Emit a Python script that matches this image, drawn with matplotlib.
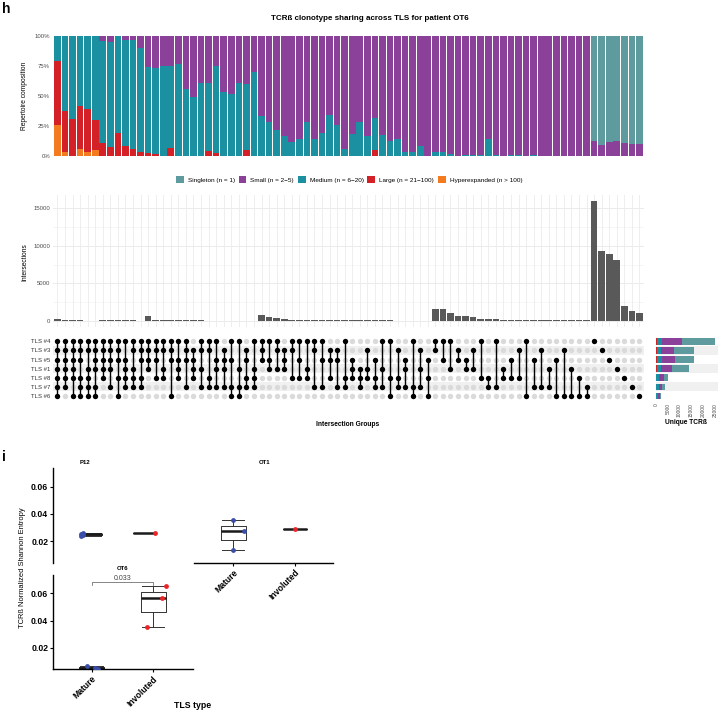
import numpy as np
import matplotlib
matplotlib.use("Agg")
import matplotlib.pyplot as plt
from matplotlib.patches import Patch

plt.rcParams['font.family'] = ['Liberation Sans', 'DejaVu Sans']

# ---- data: TCRb clonotype sharing (panel h) ----
tls_rows = ['TLS #4', 'TLS #3', 'TLS #5', 'TLS #1', 'TLS #8', 'TLS #7', 'TLS #6']

# membership of each intersection column, rows in tls_rows order
combos = ['1111111',
          '1111110', '1111101', '1110111', '1101111', '1111011',
          '1111100', '1111010', '1110101', '1011110', '1101110', '1110110',
          '1111000', '1110100', '1101100', '1110001', '1011100', '1110010', '0111100',
          '1101010', '1100110', '1011010', '0111010', '1010011', '1001011', '0110110', '1001110',
          '1110000', '1011000', '1101000', '0111000', '1100100', '1010100', '1001100', '1100010',
          '1010010', '0110100', '0110010', '1000110', '0011100', '0001110', '0101100', '0010110',
          '1001010', '1000101', '0100110', '0011010', '1000011', '0101010', '0010101',
          '1100000', '1010000', '1001000', '0110000', '0011000', '0101000', '1000100', '0000110',
          '1000010', '0001100', '0010100', '0100100', '1000001', '0010010', '0100010', '0001010',
          '0010001', '0100001', '0001001', '0000101', '0000011',
          '1000000', '0100000', '0010000', '0001000', '0000100', '0000010', '0000001']

inter_size = [220,
              130, 35, 30, 25, 20,
              80, 80, 40, 35, 30, 25,
              580, 60, 50, 45, 40, 35, 30, 28, 25, 22, 20, 18, 16, 15, 14,
              750, 530, 400, 220, 120, 90, 80, 70, 60, 55, 50, 45, 40, 38, 35, 32,
              30, 28, 26, 24, 22, 20, 18,
              1510, 1510, 980, 620, 620, 490, 220, 180, 170, 150, 130, 110, 100, 90,
              80, 70, 60, 50, 45, 40, 35,
              15980, 9300, 8950, 8100, 2000, 1250, 990]

hyper_frac = [0.26, 0.03, 0, 0.06, 0.035, 0.05, 0, 0, 0, 0, 0, 0, 0, 0, 0, 0, 0, 0, 0, 0,
              0, 0, 0, 0, 0, 0, 0, 0, 0, 0, 0, 0, 0, 0, 0, 0, 0, 0, 0, 0,
              0, 0, 0, 0, 0, 0, 0, 0, 0, 0, 0, 0, 0, 0, 0, 0, 0, 0, 0, 0,
              0, 0, 0, 0, 0, 0, 0, 0, 0, 0, 0, 0, 0, 0, 0, 0, 0, 0]
large_frac = [0.53, 0.345, 0.305, 0.36, 0.355, 0.25, 0.105, 0.075, 0.19, 0.08, 0.055, 0.03,
              0.028, 0.015, 0, 0.07, 0, 0, 0, 0, 0.045, 0.022, 0, 0, 0, 0.047, 0,
              0, 0, 0, 0, 0, 0, 0, 0, 0, 0, 0, 0, 0, 0, 0, 0.05,
              0, 0, 0, 0, 0, 0, 0, 0, 0, 0, 0, 0, 0, 0, 0, 0, 0, 0, 0, 0,
              0, 0, 0, 0, 0, 0, 0, 0, 0, 0, 0, 0, 0, 0, 0]
medium_frac = [0.21, 0.625, 0.695, 0.58, 0.61, 0.70, 0.855, 0.875, 0.81, 0.89, 0.915, 0.87,
               0.717, 0.715, 0.75, 0.68, 0.77, 0.555, 0.49, 0.61, 0.565, 0.728, 0.53, 0.515,
               0.61, 0.553, 0.70,
               0.33, 0.28, 0.215, 0.17, 0.12, 0.145, 0.28, 0.14, 0.19, 0.34, 0.255, 0.055,
               0.185, 0.28, 0.17, 0.27, 0.175, 0.125, 0.14, 0.033, 0.033, 0.08, 0,
               0.033, 0.033, 0.017, 0, 0.005, 0.01, 0.01, 0.14, 0.005, 0, 0.005, 0.005, 0,
               0.01, 0, 0, 0, 0, 0, 0, 0,
               0.004, 0.004, 0.004, 0.004, 0.004, 0.004, 0.004]
singleton_frac = [0, 0, 0, 0, 0, 0, 0, 0, 0, 0, 0, 0, 0, 0, 0, 0, 0, 0, 0, 0,
                  0, 0, 0, 0, 0, 0, 0, 0, 0, 0, 0, 0, 0, 0, 0, 0, 0, 0, 0, 0,
                  0, 0, 0, 0, 0, 0, 0, 0, 0, 0, 0, 0, 0, 0, 0, 0, 0, 0, 0, 0,
                  0, 0, 0, 0, 0, 0, 0, 0, 0, 0, 0,
                  0.871, 0.91, 0.886, 0.879, 0.891, 0.899, 0.904]

# unique TCRb per TLS, split by clone size class
set_large = [400, 400, 400, 400, 60, 30, 20]
set_medium = [2200, 1800, 2000, 1700, 1400, 1100, 700]
set_small = [8600, 5400, 5600, 4700, 1800, 1600, 1100]
set_singleton = [14000, 8500, 7900, 7200, 1700, 1000, 400]

class_names = ['Singleton (n = 1)', 'Small (n = 2\u22125)', 'Medium (n = 6\u221220)',
               'Large (n = 21\u2212100)', 'Hyperexpanded (n > 100)']
class_colors = ['#5E9B9F', '#8B4199', '#1A90A0', '#D42128', '#F47A20']

# ---- data: normalized Shannon entropy (panel i) ----
tls_types = ['Mature', 'Involuted']
p12_mature = [0.0243, 0.0248, 0.0250, 0.0252, 0.0256, 0.0260]
p12_involuted = [0.0264]
ot1_mature = [0.0356, 0.0275, 0.0141]
ot1_involuted = [0.0290]
ot6_mature = [0.0064, 0.0046, 0.0049]
ot6_involuted = [0.0653, 0.0568, 0.0352]
ot6_pvalue = '0.033'

W, H = 720, 713
fig = plt.figure(figsize=(7.2, 7.13), dpi=100)


def px_axes(x0, y0, x1, y1):
    return fig.add_axes([x0 / W, 1 - y1 / H, (x1 - x0) / W, (y1 - y0) / H])


n = len(combos)
xs = np.arange(n)
X0, X1 = 52.9, 644.0
grid_c = '#EBEBEB'
tick_c = '#4D4D4D'

# ---------- composition panel ----------
ax = px_axes(X0, 36, X1, 156)
singleton = np.array(singleton_frac)
hyper = np.array(hyper_frac)
large = np.array(large_frac)
medium = np.array(medium_frac)
small = 1 - hyper - large - medium - singleton
bottom = np.zeros(n)
for vals, col in [(hyper, class_colors[4]), (large, class_colors[3]), (medium, class_colors[2]),
                  (small, class_colors[1]), (singleton, class_colors[0])]:
    ax.bar(xs, vals, bottom=bottom, width=0.88, color=col, linewidth=0)
    bottom += vals
ax.set_xlim(-0.6, n - 0.4)
ax.set_ylim(0, 1)
ax.set_yticks([0, 0.25, 0.5, 0.75, 1])
ax.set_yticklabels(['0%', '25%', '50%', '75%', '100%'])
ax.set_xticks([])
ax.tick_params(axis='y', length=0, labelsize=4.3, labelcolor=tick_c, pad=2)
for s in ax.spines.values():
    s.set_visible(False)

# ---------- intersection size panel ----------
ax2 = px_axes(X0, 194.9, X1, 326.7)
ax2.set_xlim(-0.6, n - 0.4)
ax2.set_ylim(-800, 16800)
for v in [2500, 7500, 12500]:
    ax2.axhline(v, color='#F3F3F3', lw=0.5, zorder=0)
for v in [0, 5000, 10000, 15000]:
    ax2.axhline(v, color=grid_c, lw=0.7, zorder=0)
for x in xs:
    ax2.axvline(x, color=grid_c, lw=0.6, zorder=0)
ax2.bar(xs, inter_size, width=0.88, color='#595959', linewidth=0, zorder=2)
ax2.set_yticks([0, 5000, 10000, 15000])
ax2.set_xticks([])
ax2.tick_params(axis='y', length=0, labelsize=4.3, labelcolor=tick_c, pad=2)
for s in ax2.spines.values():
    s.set_visible(False)

# ---------- matrix panel ----------
ax3 = px_axes(X0, 336.7, X1, 400.6)
ax3.set_xlim(-0.6, n - 0.4)
ax3.set_ylim(len(tls_rows) - 0.5, -0.5)
for r in range(len(tls_rows)):
    if r % 2 == 1:
        ax3.axhspan(r - 0.5, r + 0.5, color='#F0F0F0', lw=0, zorder=0)
for j, c in enumerate(combos):
    on = [i for i, ch in enumerate(c) if ch == '1']
    off = [i for i, ch in enumerate(c) if ch == '0']
    ax3.scatter([j] * len(off), off, s=15, color='#DADADA', lw=0, zorder=2)
    if len(on) > 1:
        ax3.plot([j, j], [min(on), max(on)], color='black', lw=1.0, zorder=3)
    ax3.scatter([j] * len(on), on, s=15, color='black', lw=0, zorder=4)
ax3.set_yticks(range(len(tls_rows)))
ax3.set_yticklabels(tls_rows)
ax3.set_xticks([])
ax3.tick_params(axis='y', length=0, labelsize=4.3, labelcolor='#333333', pad=2)
for s in ax3.spines.values():
    s.set_visible(False)

# ---------- set size panel ----------
ax4 = px_axes(656, 336.7, 718, 400.6)
ax4.set_ylim(len(tls_rows) - 0.5, -0.5)
ax4.set_xlim(0, 26270)
for r in range(len(tls_rows)):
    if r % 2 == 1:
        ax4.axhspan(r - 0.5, r + 0.5, color='#F0F0F0', lw=0, zorder=0)
left = np.zeros(len(tls_rows))
for vals, col in [(set_large, class_colors[3]), (set_medium, class_colors[2]),
                  (set_small, class_colors[1]), (set_singleton, class_colors[0])]:
    ax4.barh(range(len(tls_rows)), vals, left=left, height=0.72, color=col, lw=0, zorder=2)
    left += np.array(vals)
ax4.set_yticks([])
ax4.set_xticks([0, 5000, 10000, 15000, 20000, 25000])
ax4.tick_params(axis='x', length=0, labelsize=3.5, labelcolor=tick_c, pad=2, labelrotation=90)
for s in ax4.spines.values():
    s.set_visible(False)

# ---------- overlay for texts ----------
ov = fig.add_axes([0, 0, 1, 1], zorder=-1)
ov.set_xlim(0, W)
ov.set_ylim(H, 0)
ov.axis('off')

ov.text(2, 9, 'h', fontsize=10, fontweight='bold', va='center', ha='left')
ov.text(370, 18, 'TCR\u00df clonotype sharing across TLS for patient OT6', fontsize=5.8,
        fontweight='bold', ha='center', va='center')
ov.text(25, 96, 'Repertoire composition', fontsize=4.8, rotation=90, ha='center', va='center')
ov.text(25, 262, 'Intersections', fontsize=4.8, rotation=90, ha='center', va='center')
ov.text(348, 425, 'Intersection Groups', fontsize=4.8, fontweight='bold', ha='center', va='center')
ov.text(686, 423, 'Unique TCR\u00df', fontsize=4.8, fontweight='bold', ha='center', va='center')

handles = [Patch(facecolor=c, edgecolor='none') for c in class_colors]
fig.legend(handles, class_names, ncol=5, loc='center', bbox_to_anchor=(349 / W, 1 - 179.5 / H),
           fontsize=4.6, frameon=False, handlelength=1.25, handleheight=1.25,
           handletextpad=0.6, columnspacing=0.6)

# ---------- panel i: entropy ----------
ylo, yhi = 0.0043, 0.0735
blue, red = '#3A4DA8', '#EC2327'


def entropy_panel(ax, mature, involuted, jit_m, jit_i, xlim, left_axis, bottom_axis):
    ax.boxplot([mature, involuted], positions=[1, 2], widths=0.4, whis=(0, 100),
               showfliers=False, capwidths=0.36,
               boxprops=dict(color='#333333', lw=0.7),
               whiskerprops=dict(color='#333333', lw=0.7),
               capprops=dict(color='#333333', lw=0.7),
               medianprops=dict(color='#1a1a1a', lw=1.8))
    ax.scatter(1 + np.array(jit_m), mature, s=12, color=blue, zorder=5, lw=0)
    ax.scatter(2 + np.array(jit_i), involuted, s=12, color=red, zorder=5, lw=0)
    ax.set_xlim(*xlim)
    ax.set_ylim(ylo, yhi)
    ax.spines['top'].set_visible(False)
    ax.spines['right'].set_visible(False)
    ax.spines['left'].set_visible(left_axis)
    ax.spines['bottom'].set_visible(bottom_axis)
    for s in ax.spines.values():
        s.set_linewidth(1.0)
    ax.set_yticks([0.02, 0.04, 0.06])
    ax.set_yticklabels(['0.02', '0.04', '0.06'])
    ax.set_xticks([1, 2])
    ax.set_xticklabels(tls_types, rotation=45, ha='right', rotation_mode='anchor')
    ax.tick_params(axis='y', left=left_axis, labelleft=left_axis, length=2.2, width=0.8,
                   labelsize=6.2, pad=1.5)
    ax.tick_params(axis='x', bottom=bottom_axis, labelbottom=bottom_axis, length=2.2, width=0.8,
                   labelsize=6.2, pad=1.5)
    for lab in ax.get_xticklabels() + ax.get_yticklabels():
        lab.set_fontweight('bold')
    ax.patch.set_alpha(0)


a_p12 = px_axes(53.3, 468, 180, 563)
entropy_panel(a_p12, p12_mature, p12_involuted, [-0.2, -0.18, -0.17, -0.2, -0.18, -0.16], [0.23],
              (0.257, 2.71), True, False)
a_ot1 = px_axes(194.3, 468, 333.3, 563)
entropy_panel(a_ot1, ot1_mature, ot1_involuted, [-0.01, 0.17, -0.01], [0.0],
              (0.37, 2.62), False, True)
a_ot6 = px_axes(53.3, 575, 193.3, 669.3)
entropy_panel(a_ot6, ot6_mature, ot6_involuted, [-0.07, 0.1, 0.05], [0.2, 0.14, -0.1],
              (0.38, 2.65), True, True)

# significance bracket
a_ot6.plot([1, 1, 2, 2], [0.0665, 0.068, 0.068, 0.0665], color='#555555', lw=0.5)
a_ot6.text(1.5, 0.0685, ot6_pvalue, fontsize=5, ha='center', va='bottom', color='#444444')

ov.text(2, 457, 'i', fontsize=10, fontweight='bold', va='center', ha='left')
ov.text(85, 462.7, 'P12', fontsize=4.3, fontweight='bold', ha='center', va='center')
ov.text(265, 462.7, 'OT1', fontsize=4.3, fontweight='bold', ha='center', va='center')
ov.text(123, 568.5, 'OT6', fontsize=4.3, fontweight='bold', ha='center', va='center')
ov.text(23, 568, 'TCR\u00df Normalized Shannon Entropy', fontsize=5.4, rotation=90,
        ha='center', va='center')
ov.text(193, 706, 'TLS type', fontsize=6.3, fontweight='bold', ha='center', va='center')

fig.savefig('out.png', dpi=100, facecolor='white')
